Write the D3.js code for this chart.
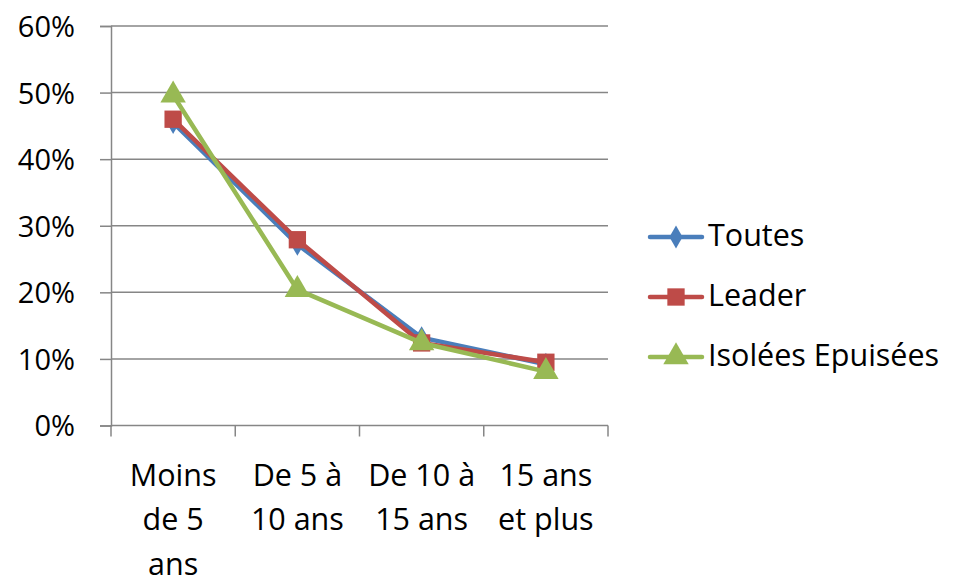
<!DOCTYPE html>
<html><head><meta charset="utf-8">
<script src="https://cdn.jsdelivr.net/npm/d3@7"></script>
<style>body{margin:0;background:#fff}svg{display:block}text{font-family:"Open Sans",sans-serif;fill:#000}</style>
</head><body><svg width="955" height="578"></svg>
<script>
const categories = [["Moins","de 5","ans"],["De 5 à","10 ans"],["De 10 à","15 ans"],["15 ans","et plus"]];
const yTicks = [0,0.1,0.2,0.3,0.4,0.5,0.6];
const seriesNames = ["Toutes","Leader","Isolées Epuisées"];
const toutes = [0.455,0.272,0.132,0.092];
const leader = [0.460,0.279,0.124,0.095];
const isolees = [0.496,0.204,0.124,0.081];
const colors = ["#4A7EBB","#BE4B48","#98B954"];

(function(){
const FS = 30.5, FY = 29, FF = "'Open Sans', sans-serif";
const symbols = [d3.symbolDiamond, d3.symbolSquare, d3.symbolTriangle];
const symSizes = [150, 300, 280];
const svg = d3.select("svg");
const pl = 111, pr = 608, pt = 26, pb = 425.5;
const x = d3.scaleBand().domain(d3.range(categories.length)).range([pl, pr]);
const y = d3.scaleLinear().domain([0,0.6]).range([pb, pt]);
const grid = "#868686";

svg.append("g").selectAll("line").data(yTicks.slice(1)).join("line")
  .attr("x1", pl).attr("x2", pr).attr("y1", d=>y(d)).attr("y2", d=>y(d))
  .attr("stroke", grid).attr("stroke-width", 1.5);

const ya = svg.append("g").attr("transform", `translate(${pl},0)`)
  .call(d3.axisLeft(y).tickValues(yTicks).tickFormat(d3.format(".0%")).tickSize(11).tickPadding(25));
ya.select(".domain").attr("stroke", grid).attr("stroke-width", 1.5);
ya.selectAll(".tick line").attr("stroke", grid).attr("stroke-width", 1.5);
ya.selectAll("text").attr("font-size", FY).attr("font-family", FF).attr("dy", "0.36em").attr("fill","#000");

const xa = svg.append("g").attr("transform", `translate(0,${pb})`);
xa.append("line").attr("x1", pl).attr("x2", pr).attr("stroke", grid).attr("stroke-width", 1.5);
const bounds = x.domain().map(i => x(i)).concat([pr]);
xa.selectAll("line.t").data(bounds).join("line").attr("class","t")
  .attr("x1", d=>d).attr("x2", d=>d).attr("y1", 0).attr("y2", 11)
  .attr("stroke", grid).attr("stroke-width", 1.5);
categories.forEach((lines, i) => {
  const t = xa.append("text").attr("text-anchor","middle").attr("font-size", FS)
    .attr("x", x(i) + x.bandwidth()/2).attr("y", 60);
  lines.forEach((l, j) => t.append("tspan").attr("x", x(i) + x.bandwidth()/2).attr("dy", j===0?0:44.5).text(l));
});

const data = [toutes, leader, isolees];
const cx = i => x(i) + x.bandwidth()/2;
const line = d3.line().x((d,i)=>cx(i)).y(d=>y(d));
data.forEach((vals, s) => {
  const g = svg.append("g");
  g.append("path").datum(vals).attr("d", line).attr("fill","none")
    .attr("stroke", colors[s]).attr("stroke-width", 4.5).attr("stroke-linejoin","round");
  g.selectAll("path.m").data(vals).join("path").attr("class","m")
    .attr("d", d3.symbol().type(symbols[s]).size(symSizes[s]))
    .attr("transform", (d,i)=>`translate(${cx(i)},${y(d)})`)
    .attr("fill", colors[s]);
});

const legY = [237, 297, 357];
seriesNames.forEach((n, s) => {
  const g = svg.append("g").attr("transform", `translate(0,${legY[s]})`);
  g.append("line").attr("x1", 650).attr("x2", 702).attr("stroke", colors[s]).attr("stroke-width", 4.5).attr("stroke-linecap","round");
  g.append("path").attr("d", d3.symbol().type(symbols[s]).size(symSizes[s])).attr("transform","translate(676,0)").attr("fill", colors[s]);
  g.append("text").attr("x", 708).attr("y", 8.5).attr("font-size", FS).text(n);
});
})();
</script></body></html>
